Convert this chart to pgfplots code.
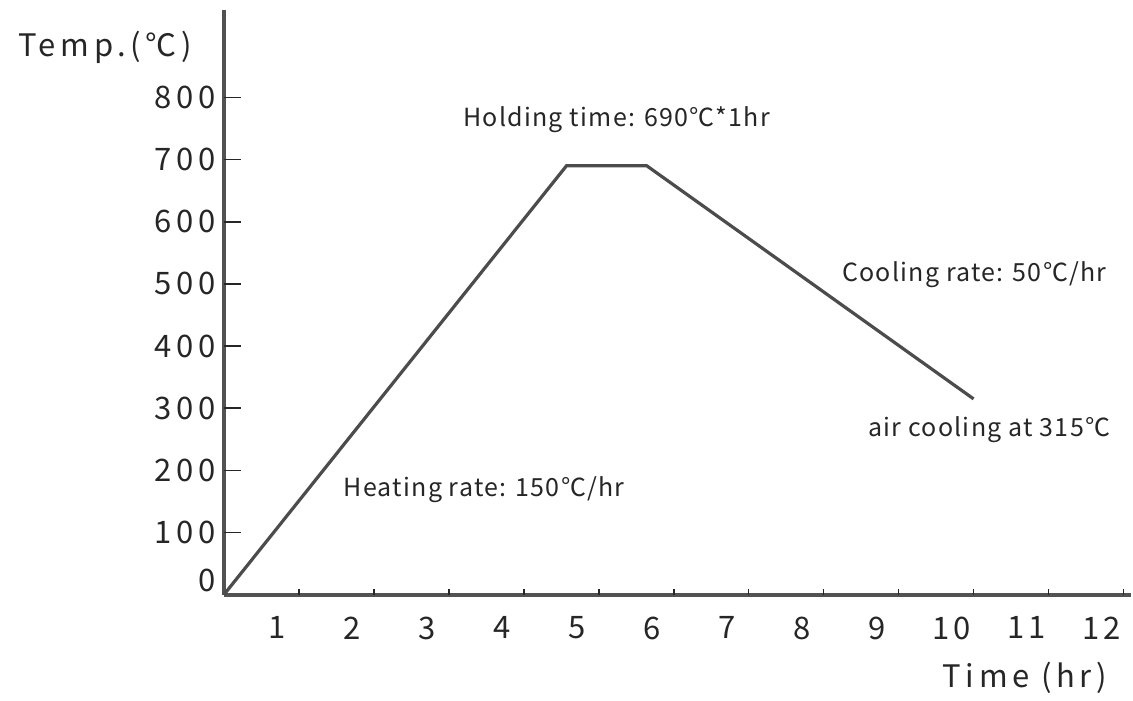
\documentclass[border=0pt]{standalone}
\usepackage{fontspec}
\setmainfont{Noto Sans CJK KR}
\newfontfamily\tickfont[LetterSpace=15]{Noto Sans CJK KR}
\newfontfamily\notefont[LetterSpace=5]{Noto Sans CJK KR}
\usepackage{pgfplots}
\pgfplotsset{compat=1.18}
\begin{document}
\begin{tikzpicture}
\begin{axis}[
  x=37.5pt, y=0.311pt,
  xmin=0, xmax=12.1, ymin=0, ymax=940,
  axis lines=left,
  axis line style={-, line width=2pt, color=black!68},
  tick align=outside,
  major tick length=0pt,
  xtick=\empty,
  extra x ticks={1,2,...,12},
  extra x tick style={major tick length=-3pt, xtick style={black!85, line width=0.8pt},
     xticklabel style={font=\tickfont\fontsize{15.5}{16}\selectfont, text=black!85, xshift=-11pt, yshift=-10.5pt}},
  ytick={0,100,200,300,400,500,600,700,800},
  yticklabels={\smash{\raisebox{1.5pt}{0}},100,200,300,400,500,600,700,800},
  ytick style={draw=none},
  yticklabel style={font=\tickfont\fontsize{15.5}{16}\selectfont, text=black!85, xshift=-0.5pt},
  /pgf/number format/assume math mode=true,
  ylabel={Temp.(℃)},
  ylabel style={rotate=-90, at={(axis description cs:-0.131,0.937)}, anchor=center, font=\tickfont\fontsize{15.5}{16}\selectfont, text=black!85},
  xlabel={Time (hr)},
  xlabel style={at={(axis description cs:0.883,-0.142)}, anchor=center, font=\tickfont\fontsize{15.5}{16}\selectfont, text=black!85},
  clip=false,
]
% short inward ticks on the y axis, drawn as a comb from x=0
\addplot[xcomb, draw=black!85, line width=0.8pt, mark=none] coordinates {
  (0.227,100) (0.227,200) (0.227,300) (0.227,400) (0.227,500) (0.227,600) (0.227,700) (0.227,800)};
\addplot[line width=1.6pt, color=black!70] coordinates {(0,0) (4.57,690) (5.64,690) (10,315)};
\node[font=\notefont\fontsize{12.5}{14}\selectfont, text=black!85] at (axis cs:5.24,764) {Holding time: 690℃*1hr};
\node[font=\notefont\fontsize{12.5}{14}\selectfont, text=black!85] at (axis cs:10.01,514) {Cooling rate: 50℃/hr};
\node[font=\notefont\fontsize{12.5}{14}\selectfont, text=black!85] at (axis cs:10.21,265) {air cooling at 315℃};
\node[font=\notefont\fontsize{12.5}{14}\selectfont, text=black!85] at (axis cs:3.47,169) {Heating rate: 150℃/hr};
\end{axis}
\path[use as bounding box] (-112pt,-51.5pt) rectangle (454.5pt,297.5pt);
\end{tikzpicture}
\end{document}
